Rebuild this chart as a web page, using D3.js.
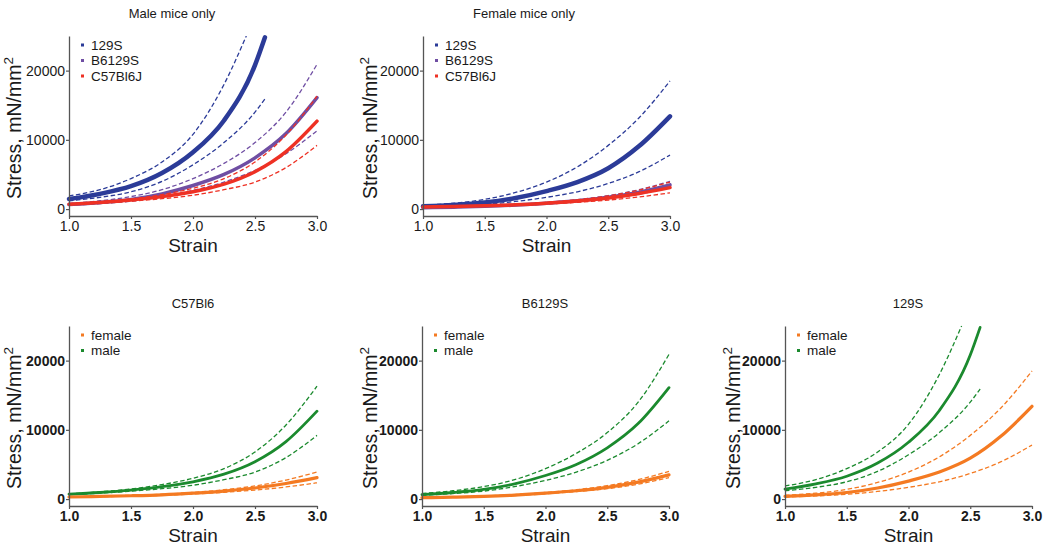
<!DOCTYPE html>
<html><head><meta charset="utf-8">
<script src="https://cdn.jsdelivr.net/npm/d3@7"></script>
<style>
body{margin:0;background:#fff}
svg{display:block}
text{font-family:"Liberation Sans",Arial,sans-serif;fill:#1a1a1a}
</style>
</head><body>
<svg id="c" width="1050" height="550"></svg>
<script>
// ---------- data ----------
const strainTicks = [1.0, 1.5, 2.0, 2.5, 3.0];
const stressTicks = [0, 10000, 20000];
const strainFull = [1.0, 1.25, 1.5, 1.75, 2.0, 2.25, 2.5, 2.75, 3.0];
const strain129MaleMean = [1.0, 1.25, 1.5, 1.75, 2.0, 2.25, 2.5, 2.58];
const strain129MaleUpper = [1.0, 1.25, 1.5, 1.75, 2.0, 2.25, 2.43];
const strain129MaleLower = [1.0, 1.25, 1.5, 1.75, 2.0, 2.25, 2.5, 2.58];

const c57MaleMean  = [700, 950, 1300, 1800, 2500, 3600, 5400, 8300, 12700];
const c57MaleUpper = [750, 1050, 1450, 2100, 3000, 4400, 6800, 10700, 16300];
const c57MaleLower = [650, 850, 1150, 1500, 2000, 2800, 3900, 6000, 9200];

const c57FemaleMean  = [300, 380, 480, 620, 850, 1150, 1600, 2250, 3100];
const c57FemaleUpper = [330, 420, 540, 700, 960, 1350, 1900, 2750, 3900];
const c57FemaleLower = [270, 340, 420, 540, 740, 980, 1300, 1750, 2350];

const b6MaleMean  = [650, 950, 1400, 2200, 3400, 5000, 7400, 10900, 16100];
const b6MaleUpper = [800, 1200, 1800, 2800, 4400, 6600, 9600, 14000, 20900];
const b6MaleLower = [550, 800, 1150, 1800, 2700, 3900, 5600, 8000, 11300];

const b6FemaleMean  = [200, 280, 400, 580, 850, 1200, 1700, 2450, 3500];
const b6FemaleUpper = [230, 320, 450, 650, 950, 1350, 1950, 2800, 4000];
const b6FemaleLower = [180, 250, 360, 520, 760, 1080, 1500, 2150, 3100];

const s129MaleMean  = [1450, 2200, 3300, 5200, 8200, 12800, 20800, 24800];
const s129MaleUpper = [1900, 2800, 4400, 6800, 10800, 18000, 25000];
const s129MaleLower = [1200, 1700, 2500, 4000, 6400, 9600, 14000, 15900];

const s129FemaleMean  = [400, 600, 950, 1600, 2600, 3900, 5900, 9100, 13400];
const s129FemaleUpper = [550, 850, 1400, 2400, 3900, 6100, 9200, 13200, 18500];
const s129FemaleLower = [300, 450, 700, 1100, 1700, 2500, 3700, 5400, 7800];

// ---------- series built from arrays ----------
const zip = (xs, ys) => xs.map((x, i) => [x, ys[i]]);
const curves = {
  c57Male:   {mean: zip(strainFull, c57MaleMean), upper: zip(strainFull, c57MaleUpper), lower: zip(strainFull, c57MaleLower)},
  c57Female: {mean: zip(strainFull, c57FemaleMean), upper: zip(strainFull, c57FemaleUpper), lower: zip(strainFull, c57FemaleLower)},
  b6Male:    {mean: zip(strainFull, b6MaleMean), upper: zip(strainFull, b6MaleUpper), lower: zip(strainFull, b6MaleLower)},
  b6Female:  {mean: zip(strainFull, b6FemaleMean), upper: zip(strainFull, b6FemaleUpper), lower: zip(strainFull, b6FemaleLower)},
  s129Male:  {mean: zip(strain129MaleMean, s129MaleMean), upper: zip(strain129MaleUpper, s129MaleUpper), lower: zip(strain129MaleLower, s129MaleLower)},
  s129Female:{mean: zip(strainFull, s129FemaleMean), upper: zip(strainFull, s129FemaleUpper), lower: zip(strainFull, s129FemaleLower)}
};

const BLUE = "#2b3b98", PURPLE = "#6f4ea3", RED = "#ee3124", GREEN = "#1b8a2e", ORANGE = "#f47a22";

const panels = [
  {x0: 69, x1: 317, yb: 216, yt: 36, title: "Male mice only", titleX: 172, titleY: 18, labX: 21, bold: false,
   series: [
     {c: "s129Male", color: BLUE, w: 4.5, label: "129S"},
     {c: "b6Male", color: PURPLE, w: 3.5, label: "B6129S"},
     {c: "c57Male", color: RED, w: 3.5, label: "C57Bl6J"}]},
  {x0: 423, x1: 670, yb: 216, yt: 36, title: "Female mice only", titleX: 524, titleY: 18, labX: 377, bold: false,
   series: [
     {c: "s129Female", color: BLUE, w: 4.5, label: "129S"},
     {c: "b6Female", color: PURPLE, w: 3.5, label: "B6129S"},
     {c: "c57Female", color: RED, w: 3.5, label: "C57Bl6J"}]},
  {x0: 69, x1: 317, yb: 506, yt: 326, title: "C57Bl6", titleX: 193, titleY: 308, labX: 21, bold: true,
   series: [
     {c: "c57Male", color: GREEN, w: 2.8, label: "male"},
     {c: "c57Female", color: ORANGE, w: 3.2, label: "female"}],
   legendOrder: [1, 0]},
  {x0: 422, x1: 669, yb: 506, yt: 326, title: "B6129S", titleX: 545, titleY: 308, labX: 377, bold: true,
   series: [
     {c: "b6Male", color: GREEN, w: 2.8, label: "male"},
     {c: "b6Female", color: ORANGE, w: 3.2, label: "female"}],
   legendOrder: [1, 0]},
  {x0: 785, x1: 1032, yb: 506, yt: 326, title: "129S", titleX: 908, titleY: 308, labX: 740, bold: true,
   series: [
     {c: "s129Male", color: GREEN, w: 2.8, label: "male"},
     {c: "s129Female", color: ORANGE, w: 3.2, label: "female"}],
   legendOrder: [1, 0]}
];

const svg = d3.select("#c");

panels.forEach(p => {
  const x = d3.scaleLinear().domain([1, 3]).range([p.x0, p.x1]);
  const y = d3.scaleLinear().domain([-1000, 25000]).range([p.yb, p.yt]);
  const g = svg.append("g");

  // title
  g.append("text").attr("x", p.titleX).attr("y", p.titleY)
    .attr("text-anchor", "middle").style("font-size", "13px").text(p.title);

  // curves
  const line = d3.line().x(d => x(d[0])).y(d => y(d[1])).curve(d3.curveMonotoneX);
  p.series.forEach(s => {
    const cv = curves[s.c];
    ["upper", "lower"].forEach(k => {
      g.append("path").attr("d", line(cv[k])).attr("fill", "none")
        .attr("stroke", s.color).attr("stroke-width", 1.3).attr("stroke-dasharray", "4.5,2.5");
    });
    g.append("path").attr("d", line(cv.mean)).attr("fill", "none")
      .attr("stroke", s.color).attr("stroke-width", s.w).attr("stroke-linecap", "round");
  });

  // axes
  const tickFont = p.bold ? "bold" : "normal";
  const xa = g.append("g").attr("transform", `translate(0,${p.yb})`)
    .call(d3.axisBottom(x).tickValues(strainTicks).tickFormat(d3.format(".1f")).tickSize(3).tickSizeOuter(0).tickPadding(2));
  const ya = g.append("g").attr("transform", `translate(${p.x0},0)`)
    .call(d3.axisLeft(y).tickValues(stressTicks).tickFormat(d3.format("d")).tickSize(3).tickSizeOuter(0).tickPadding(1));
  [xa, ya].forEach(a => {
    a.select(".domain").attr("stroke", "#555").attr("stroke-width", 1.3);
    a.selectAll(".tick line").attr("stroke", "#555").attr("stroke-width", 1.2);
    a.selectAll(".tick text").style("font-size", "14px").style("font-weight", tickFont)
      .style("font-family", "'Liberation Sans',Arial,sans-serif").attr("fill", "#1a1a1a");
  });

  // axis labels
  g.append("text").attr("x", (p.x0 + p.x1) / 2).attr("y", p.yb + 36)
    .attr("text-anchor", "middle").style("font-size", "19px").text("Strain");
  const yl = g.append("text").attr("transform", `translate(${p.labX},${(p.yb + p.yt) / 2 + 2}) rotate(-90)`)
    .attr("text-anchor", "middle").style("font-size", "19.5px");
  yl.append("tspan").text("Stress, mN/mm");
  yl.append("tspan").attr("dy", -8).style("font-size", "13.5px").text("2");

  // legend
  const order = p.legendOrder || p.series.map((_, i) => i);
  order.forEach((si, r) => {
    const s = p.series[si];
    const cy = p.yt + 9 + r * 15.5;
    g.append("rect").attr("x", p.x0 + 12).attr("y", cy - 1.5).attr("width", 3).attr("height", 3).attr("fill", s.color);
    g.append("text").attr("x", p.x0 + 22).attr("y", cy).attr("dy", "0.36em")
      .style("font-size", "13.5px").text(s.label);
  });
});
</script>
</body></html>
